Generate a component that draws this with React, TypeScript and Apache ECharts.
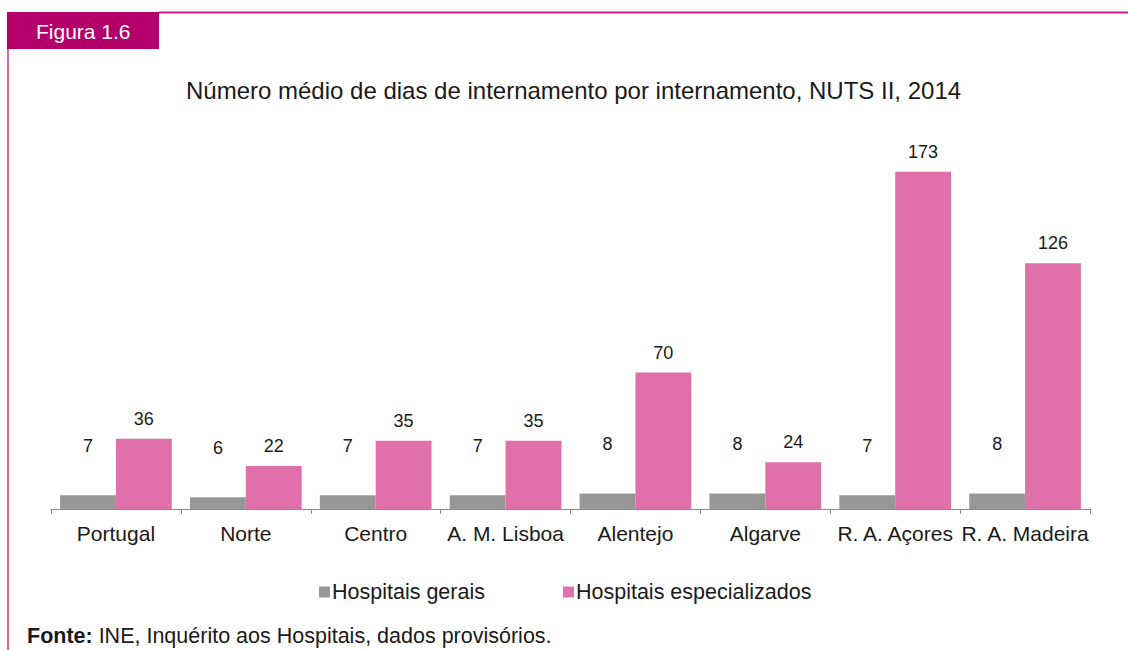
import React, { useEffect, useRef } from "react";
import * as echarts from "echarts";

const categories = ["Portugal", "Norte", "Centro", "A. M. Lisboa", "Alentejo", "Algarve", "R. A. Açores", "R. A. Madeira"];
const gerais = [7, 6, 7, 7, 8, 8, 7, 8];
const especializados = [36, 22, 35, 35, 70, 24, 173, 126];
const seriesNames = ["Hospitais gerais", "Hospitais especializados"];
const titleText = "Número médio de dias de internamento por internamento, NUTS II, 2014";
const figureLabel = "Figura 1.6";

const FONT = "'Liberation Sans', Arial, sans-serif";
const GRAY = "#979797";
const PINK = "#e070aa";
const MAGENTA = "#b3006b";

export default function App() {
  const ref = useRef<HTMLDivElement>(null);
  useEffect(() => {
    if (!ref.current) return;
    const chart = echarts.init(ref.current, null, { renderer: "svg" });
    chart.setOption({
      animation: false,
      backgroundColor: "#ffffff",
      textStyle: { fontFamily: FONT },
      title: {
        text: titleText,
        left: 181,
        top: 73,
        textStyle: { fontFamily: FONT, fontSize: 24, fontWeight: "normal", color: "#1a1a1a" },
      },
      grid: { left: 51, right: 38, top: 119, bottom: 141 },
      xAxis: {
        type: "category",
        data: categories,
        axisLine: { show: true, lineStyle: { color: "#8c8c8c", width: 1 } },
        axisTick: { show: true, length: 5, lineStyle: { color: "#8c8c8c" } },
        axisLabel: { fontFamily: FONT, fontSize: 21, color: "#1a1a1a", margin: 14, interval: 0 },
      },
      yAxis: {
        type: "value",
        min: 0,
        max: 200,
        show: false,
        splitLine: { show: false },
      },
      legend: {
        data: seriesNames,
        left: 314,
        top: 576,
        icon: "rect",
        itemWidth: 11,
        itemHeight: 11,
        itemGap: 78,
        textStyle: { fontFamily: FONT, fontSize: 21.5, color: "#1a1a1a", padding: [0, 0, 0, -3] },
      },
      series: [
        {
          name: seriesNames[0],
          type: "bar",
          data: gerais,
          barGap: "0%",
          barCategoryGap: "14%",
          itemStyle: { color: GRAY },
          label: { show: true, position: "top", distance: 40, fontFamily: FONT, fontSize: 18, color: "#1a1a1a" },
        },
        {
          name: seriesNames[1],
          type: "bar",
          data: especializados,
          barGap: "0%",
          barCategoryGap: "14%",
          itemStyle: { color: PINK },
          label: { show: true, position: "top", distance: 11, fontFamily: FONT, fontSize: 18, color: "#1a1a1a" },
        },
      ],
      graphic: [
        { type: "rect", shape: { x: 7, y: 12, width: 152, height: 37 }, style: { fill: MAGENTA } },
        {
          type: "text",
          x: 36,
          y: 31,
          style: { text: figureLabel, fill: "#ffffff", font: `21px ${FONT}`, textVerticalAlign: "middle" },
        },
        { type: "line", shape: { x1: 159, y1: 12.5, x2: 1128, y2: 12.5 }, style: { stroke: "#c8247f", lineWidth: 2 } },
        { type: "line", shape: { x1: 8, y1: 49, x2: 8, y2: 650 }, style: { stroke: "#c23a88", lineWidth: 1.5 } },
        {
          type: "text",
          x: 27,
          y: 636,
          style: {
            text: "{b|Fonte:} INE, Inquérito aos Hospitais, dados provisórios.",
            fill: "#1a1a1a",
            font: `21.5px ${FONT}`,
            textVerticalAlign: "middle",
            rich: { b: { fontWeight: "bold", fontSize: 21.5, fontFamily: FONT, fill: "#1a1a1a" } },
          },
        },
      ],
    });
    return () => chart.dispose();
  }, []);
  return <div ref={ref} style={{ position: "absolute", left: 0, top: 0, width: 1128, height: 650 }} />;
}
